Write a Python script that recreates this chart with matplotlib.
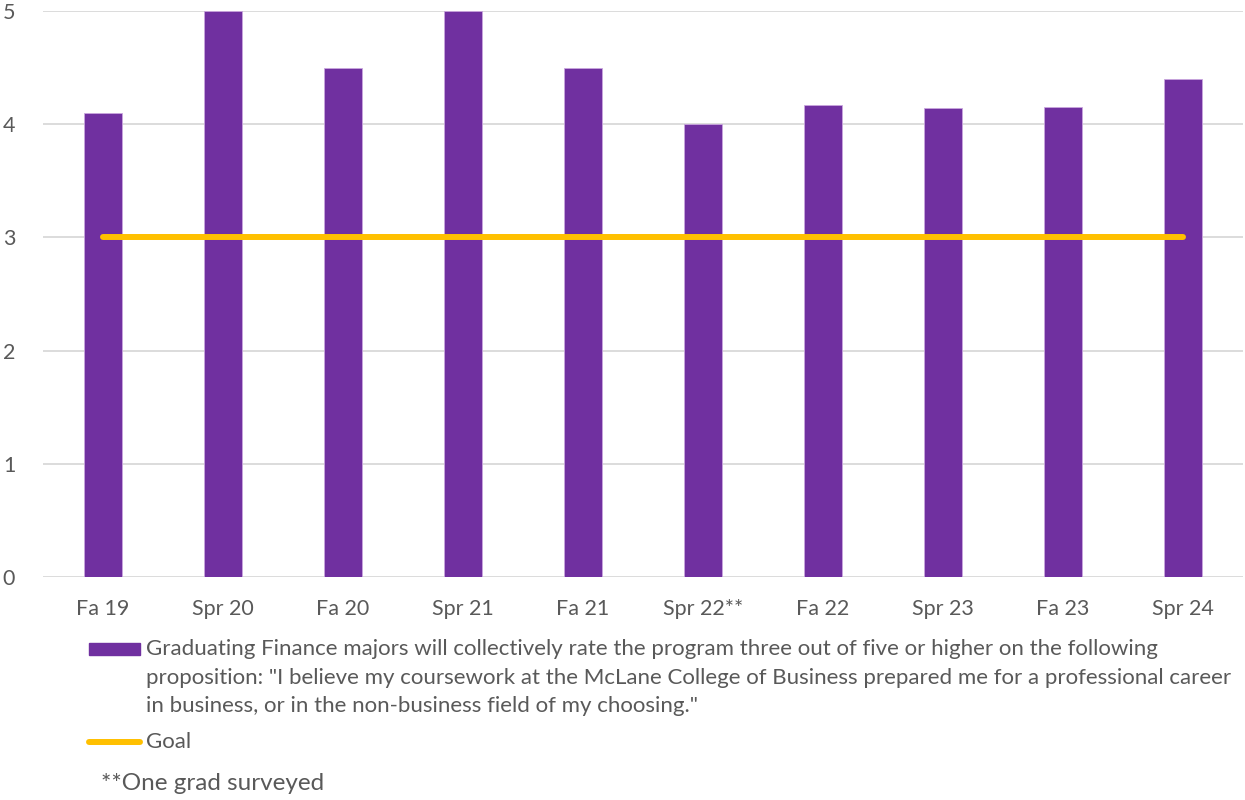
import matplotlib.pyplot as plt
from matplotlib.patches import Rectangle
from matplotlib.lines import Line2D

plt.rcParams['font.family'] = ['Lato', 'DejaVu Sans']

# data
terms = ['Fa 19', 'Spr 20', 'Fa 20', 'Spr 21', 'Fa 21', 'Spr 22**', 'Fa 22', 'Spr 23', 'Fa 23', 'Spr 24']
ratings = [4.1, 5.0, 4.5, 5.0, 4.5, 4.0, 4.17, 4.14, 4.15, 4.4]
goal = [3] * len(terms)

purple = '#7030A0'
gold = '#FFC000'
grey = '#595959'

fig = plt.figure(figsize=(12.45, 8), dpi=100)
ax = fig.add_axes([43/1245, 1-577/800, 1200/1245, 566/800])

x = range(len(terms))
ax.bar(x, ratings, width=0.32, color=purple, edgecolor='#C9A6DE', linewidth=0.6, zorder=2)
ax.plot(x, goal, color=gold, linewidth=4.3, solid_capstyle='round', zorder=3)

ax.set_xlim(-0.5, len(terms) - 0.5)
ax.set_ylim(0, 5)
ax.set_yticks([0, 1, 2, 3, 4, 5])
ax.set_xticks(list(x))
ax.set_xticklabels(terms)
ax.grid(axis='y', color='#D9D9D9', linewidth=1.3, zorder=0)
ax.tick_params(length=0, labelsize=15.5, labelcolor=grey)
ax.tick_params(axis='x', pad=16)
ax.tick_params(axis='y', pad=20)
for s in ax.spines.values():
    s.set_visible(False)

# legend drawn by hand to mimic wrapped text
fig.patches.append(Rectangle((89/1245, 1-655/800), 51/1245, 12/800, transform=fig.transFigure,
                             color=purple))
lines = ['Graduating Finance majors will collectively rate the program three out of five or higher on the following',
         'proposition: "I believe my coursework at the McLane College of Business prepared me for a professional career',
         'in business, or in the non-business field of my choosing."']
for i, t in enumerate(lines):
    fig.text(146/1245, 1-(649 + i*28.5)/800, t, fontsize=16, color=grey, va='center')
fig.lines.append(Line2D([89/1245, 140/1245], [1-742/800, 1-742/800], transform=fig.transFigure,
                        color=gold, linewidth=4.3, solid_capstyle='round'))
fig.text(146/1245, 1-742/800, 'Goal', fontsize=16, color=grey, va='center')
fig.text(101/1245, 1-784/800, '**One grad surveyed', fontsize=17.5, color=grey, va='center')

fig.savefig('out.png', dpi=100)
